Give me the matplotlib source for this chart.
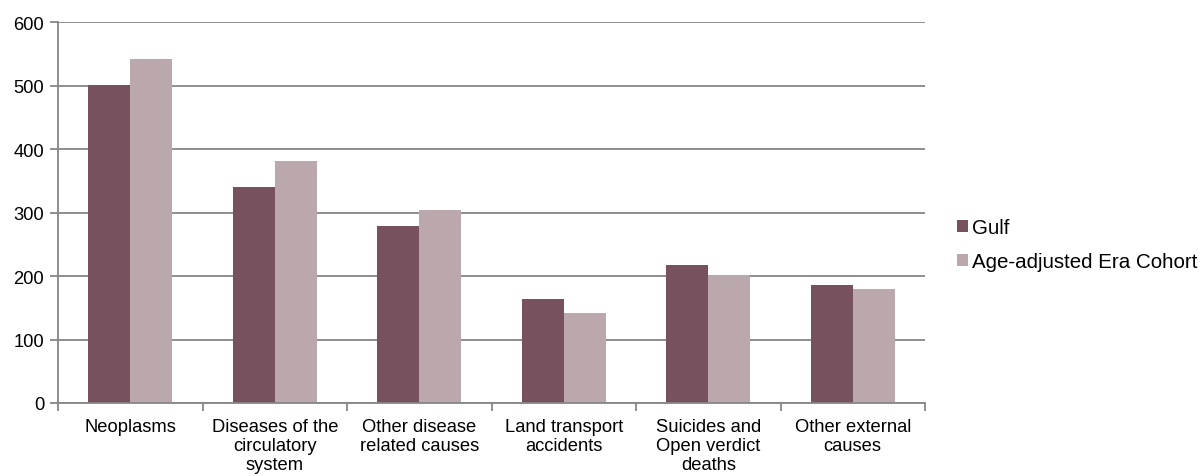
import numpy as np
import matplotlib
matplotlib.use("Agg")
import matplotlib.pyplot as plt

plt.rcParams['font.family'] = ['Liberation Sans', 'DejaVu Sans']

categories = ["Neoplasms", "Diseases of the\ncirculatory\nsystem", "Other disease\nrelated causes",
              "Land transport\naccidents", "Suicides and\nOpen verdict\ndeaths", "Other external\ncauses"]
gulf = [501, 340, 279, 164, 217, 186]
era_cohort = [542, 381, 304, 142, 201, 180]
series_names = ["Gulf", "Age-adjusted Era Cohort"]

fig = plt.figure(figsize=(12.01, 4.77), dpi=100)
ax = fig.add_axes([58 / 1201, 1 - 404 / 477, (925 - 58) / 1201, (404 - 23.3) / 477])

x = np.arange(len(categories))
w = 0.29
ax.bar(x - w / 2, gulf, w, color="#77525E", label=series_names[0], zorder=3)
ax.bar(x + w / 2, era_cohort, w, color="#BAA8AC", label=series_names[1], zorder=3)

grey = "#868686"
ax.set_ylim(0, 600)
ax.set_yticks(range(0, 601, 100))
ax.set_xlim(-0.5, len(categories) - 0.5)
ax.set_xticks(x)
ax.set_xticklabels(categories, fontsize=13.2, linespacing=1.15)
ax.set_xticks(np.arange(-0.5, len(categories), 1), minor=True)
ax.tick_params(axis="x", which="major", length=0, pad=11)
ax.tick_params(axis="x", which="minor", length=6, width=1.3, color=grey)
ax.tick_params(axis="y", length=6, width=1.3, color=grey, labelsize=13.2, pad=4)
ax.grid(axis="y", color=grey, linewidth=1.3, zorder=0)
for side in ["top", "right"]:
    ax.spines[side].set_visible(False)
for side in ["left", "bottom"]:
    ax.spines[side].set_color(grey)
    ax.spines[side].set_linewidth(1.3)
    ax.spines[side].set_zorder(4)

ax.legend(loc="center left", bbox_to_anchor=(957 / 1201, 1 - 245.5 / 477), bbox_transform=fig.transFigure,
          frameon=False, fontsize=14.8, handlelength=0.53, handleheight=0.53, handletextpad=0.22,
          labelspacing=0.72, borderaxespad=0, borderpad=0)

fig.savefig("out.png", dpi=100)
